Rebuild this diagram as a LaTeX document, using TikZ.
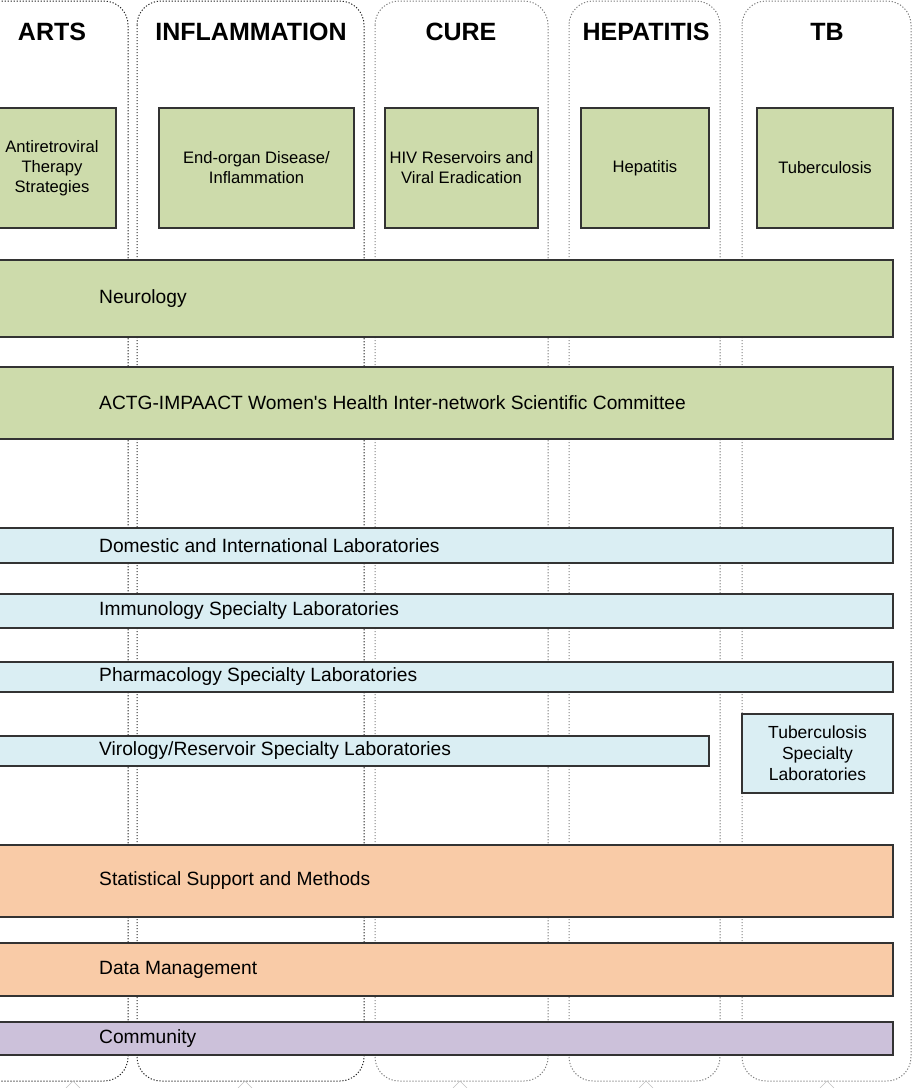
\documentclass[tikz,border=0pt]{standalone}
\usepackage{fontspec}
\setmainfont{Liberation Sans}
\usepackage{tikz}
\usetikzlibrary{positioning}
\usepackage{xcolor}
\definecolor{leaf}{HTML}{CDDBAB}
\definecolor{sky}{HTML}{DAEEF3}
\definecolor{peach}{HTML}{F9CBA7}
\definecolor{lilac}{HTML}{CCC1DA}
\tikzset{
  col/.style={draw=black!50,line width=1pt,dash pattern=on 1.2pt off 1.8pt,rounded corners=24pt},
  coldark/.style={col,draw=black!85},
  head/.style={font=\fontsize{25}{28}\selectfont\bfseries,inner sep=0pt},
  box/.style={draw=black!80,line width=1.2pt,inner sep=0pt,outer sep=0pt,align=center,
    font=\fontsize{16.6}{20}\selectfont},
  band/.style={box,minimum width=905pt},
  lbl/.style={font=\fontsize{19.2}{22}\selectfont,inner sep=0pt,anchor=west},
  chev/.style={draw=black!25,line width=0.6pt}
}
\begin{document}
\begin{tikzpicture}[x=1pt,y=-1pt]
\useasboundingbox (0,0) rectangle (913,1088);
\clip (0,0) rectangle (913,1088);
% columns
\draw [coldark] (-24,1) rectangle (128,1081);
\draw [coldark] (137,1) rectangle (364,1081);
\draw [col] (375,1) rectangle (548,1081);
\draw [col] (569,1) rectangle (720,1081);
\draw [col] (742,1) rectangle (911,1081);
\draw [chev] (66,1088)--(73,1081)--(80,1088);
\draw [chev] (238,1088)--(245,1081)--(252,1088);
\draw [chev] (453,1088)--(460,1081)--(467,1088);
\draw [chev] (639,1088)--(646,1081)--(653,1088);
\draw [chev] (820,1088)--(827,1081)--(834,1088);
% headers
\node [head] (hArts) at (52,32) {ARTS};
\node [head] (hInfl) at (251,32) {INFLAMMATION};
\node [head] (hCure) at (461,32) {CURE};
\node [head] (hHep) at (646,32) {HEPATITIS};
\node [head] (hTb) at (827,32) {TB};
% committees
\node [box,fill=leaf,minimum width=128pt,minimum height=120pt] (arv) at (52,168) {Antiretroviral\\Therapy\\Strategies};
\node [box,fill=leaf,minimum width=195pt,minimum height=120pt] (endorg) at (256.5,168) {End-organ Disease/\\Inflammation};
\node [box,fill=leaf,minimum width=153pt,minimum height=120pt] (reserv) at (461.5,168) {HIV Reservoirs and\\Viral Eradication};
\node [box,fill=leaf,minimum width=128pt,minimum height=120pt] (hep) at (645,168) {Hepatitis};
\node [box,fill=leaf,minimum width=136pt,minimum height=120pt] (tb) at (825,168) {Tuberculosis};
% bands
\node [band,fill=leaf,minimum height=77pt] (neuro) at (440.5,298.5) {};
\node [lbl,right=111pt of neuro.west] (neuroT) {Neurology};
\node [band,fill=leaf,minimum height=72pt] (women) at (440.5,403) {};
\node [lbl,right=111pt of women.west] (womenT) {ACTG-IMPAACT Women\textquotesingle s Health Inter-network Scientific Committee};
\node [band,fill=sky,minimum height=35pt] (domlab) at (440.5,545.5) {};
\node [lbl,right=111pt of domlab.west] (domlabT) {Domestic and International Laboratories};
\node [band,fill=sky,minimum height=34pt] (immlab) at (440.5,611) {};
\node [lbl,right=111pt of immlab.west] (immlabT) {Immunology Specialty Laboratories};
\node [band,fill=sky,minimum height=30pt] (pharmlab) at (440.5,677) {};
\node [lbl,right=111pt of pharmlab.west] (pharmlabT) {Pharmacology Specialty Laboratories};
\node [band,fill=sky,minimum width=721pt,minimum height=30pt] (virlab) at (348.5,751) {};
\node [lbl,right=111pt of virlab.west] (virlabT) {Virology/Reservoir Specialty Laboratories};
\node [box,fill=sky,minimum width=151pt,minimum height=79pt,font=\fontsize{17.5}{21}\selectfont] (tblab) at (817.5,753.5) {Tuberculosis\\Specialty\\Laboratories};
\node [band,fill=peach,minimum height=72pt] (stat) at (440.5,881) {};
\node [lbl,right=111pt of stat.west] (statT) {Statistical Support and Methods};
\node [band,fill=peach,minimum height=53pt] (dm) at (440.5,969.5) {};
\node [lbl,right=111pt of dm.west] (dmT) {Data Management};
\node [band,fill=lilac,minimum height=33pt] (comm) at (440.5,1038.5) {};
\node [lbl,right=111pt of comm.west] (commT) {Community};
\end{tikzpicture}
\end{document}
